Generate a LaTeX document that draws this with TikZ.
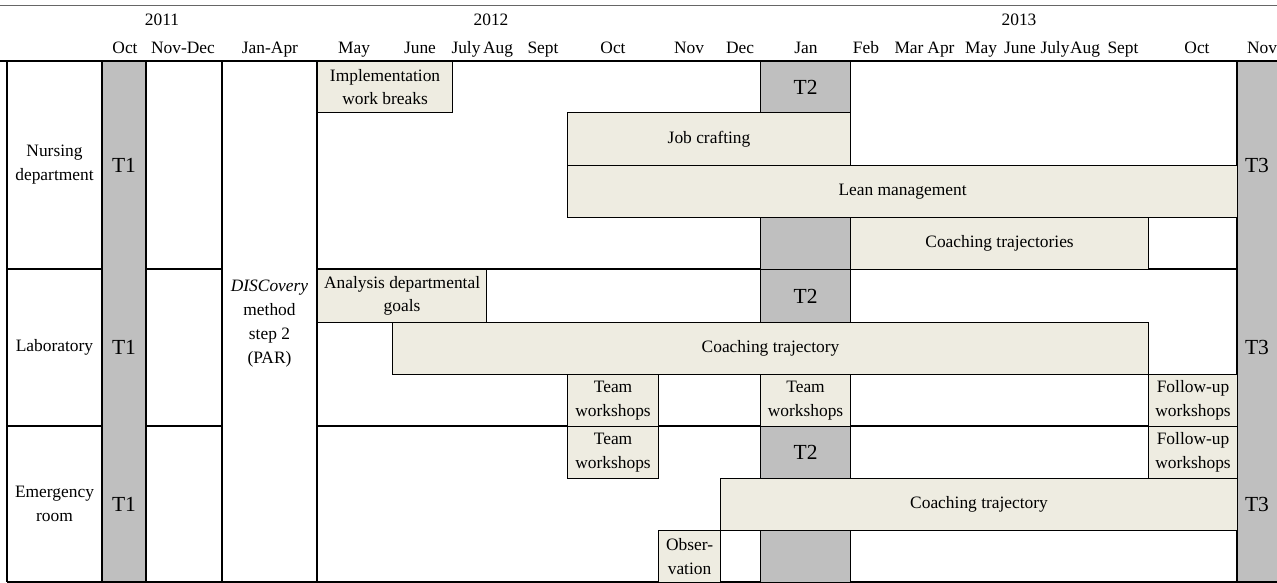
\documentclass[tikz,border=0pt]{standalone}
\usepackage{fontspec}
\setmainfont{Liberation Serif}
\definecolor{actfill}{HTML}{EEECE1}
\definecolor{tfill}{HTML}{BFBFBF}
\tikzset{
  gridline/.style={line width=1.1pt},
  actbox/.style={draw, line width=1.1pt, fill=actfill, inner sep=0pt, anchor=north west, align=center, font=\fontsize{17.4}{23.5}\selectfont},
  tbox/.style={draw, line width=1.1pt, fill=tfill, inner sep=0pt, anchor=north west, font=\fontsize{21.5}{24}\selectfont},
  tlabel/.style={inner sep=0pt, font=\fontsize{21.5}{24}\selectfont},
  hdr/.style={anchor=base, inner sep=0pt, font=\fontsize{17.4}{23.5}\selectfont},
  txt/.style={align=center, inner sep=0pt, font=\fontsize{17.4}{24}\selectfont},
}
\begin{document}
\begin{tikzpicture}[x=1pt, y=-1pt]
	\useasboundingbox (0,0) rectangle (1277,583);
	% T1 and T3 columns
	\fill[tfill] (102,61) rectangle (146,582);
	\fill[tfill] (1237,61) rectangle (1277,582);
	% header
	\node[hdr] (Y11) at (162,26) {2011};
	\node[hdr] (Y12) at (491,26) {2012};
	\node[hdr] (Y13) at (1019,26) {2013};
	\node[hdr] (M1) at (125,54) {Oct};
	\node[hdr] (M2) at (183,54) {Nov-Dec};
	\node[hdr] (M3) at (270,54) {Jan-Apr};
	\node[hdr] (M4) at (354,54) {May};
	\node[hdr] (M5) at (420,54) {June};
	\node[hdr] (M6) at (466,54) {July};
	\node[hdr] (M7) at (498,54) {Aug};
	\node[hdr] (M8) at (543,54) {Sept};
	\node[hdr] (M9) at (613,54) {Oct};
	\node[hdr] (M10) at (689,54) {Nov};
	\node[hdr] (M11) at (740,54) {Dec};
	\node[hdr] (M12) at (806,54) {Jan};
	\node[hdr] (M13) at (866,54) {Feb};
	\node[hdr] (M14) at (909,54) {Mar};
	\node[hdr] (M15) at (941,54) {Apr};
	\node[hdr] (M16) at (981,54) {May};
	\node[hdr] (M17) at (1020,54) {June};
	\node[hdr] (M18) at (1055,54) {July};
	\node[hdr] (M19) at (1085,54) {Aug};
	\node[hdr] (M20) at (1123,54) {Sept};
	\node[hdr] (M21) at (1197,54) {Oct};
	\node[hdr] (M22) at (1262,54) {Nov};
	\draw[line width=0.7pt, black!60] (0,5) -- (1277,5);
	\draw[line width=1.8pt] (0,61) -- (1277,61);
	% grid
	\draw[gridline] (7,61) -- (7,582);
	\draw[gridline] (102,61) -- (102,582);
	\draw[gridline] (146,61) -- (146,582);
	\draw[gridline] (222,61) -- (222,582);
	\draw[gridline] (317,61) -- (317,582);
	\draw[gridline] (1237,61) -- (1237,582);
	\draw[gridline] (7,269) -- (102,269) (146,269) -- (222,269) (317,269) -- (1237,269);
	\draw[gridline] (7,426) -- (102,426) (146,426) -- (222,426) (317,426) -- (1237,426);
	\draw[line width=1.4pt] (7,582) -- (1277,582);
	% row labels
	\node[txt] (NURS) at (54.5,165) {Nursing\\department};
	\node[txt] (LAB) at (54.5,347.5) {Laboratory};
	\node[txt] (ER) at (54.5,504) {Emergency\\room};
	\node[txt] (DISC) at (269.5,324) {\textit{DISCovery}\\method\\step 2\\(PAR)};
	\node[tlabel] (T1A) at (124,165) {T1};
	\node[tlabel] (T1B) at (124,347.5) {T1};
	\node[tlabel] (T1C) at (124,504) {T1};
	\node[tlabel] (T3A) at (1257,165) {T3};
	\node[tlabel] (T3B) at (1257,347.5) {T3};
	\node[tlabel] (T3C) at (1257,504) {T3};
	% nursing department
	\node[actbox, minimum width=135pt, minimum height=51pt] (IMPL) at (317,61) {Implementation\\work breaks};
	\node[tbox, minimum width=90pt, minimum height=51pt] (T2A) at (760,61) {T2};
	\node[actbox, minimum width=283pt, minimum height=53pt] (JOB) at (567,112) {Job crafting};
	\node[actbox, minimum width=670pt, minimum height=52pt] (LEAN) at (567,165) {Lean management};
	\node[tbox, minimum width=90pt, minimum height=52pt] (T2B) at (760,217) {};
	\node[actbox, minimum width=298pt, minimum height=52pt] (COACHN) at (850,217) {Coaching trajectories};
	% laboratory
	\node[actbox, minimum width=169pt, minimum height=53pt] (ANAL) at (317,269) {Analysis departmental\\goals};
	\node[tbox, minimum width=90pt, minimum height=53pt] (T2C) at (760,269) {T2};
	\node[actbox, minimum width=756pt, minimum height=52pt] (COACHL) at (392,322) {Coaching trajectory};
	\node[actbox, minimum width=91pt, minimum height=52pt] (TEAML1) at (567,374) {Team\\workshops};
	\node[actbox, minimum width=90pt, minimum height=52pt] (TEAML2) at (760,374) {Team\\workshops};
	\node[actbox, minimum width=89pt, minimum height=52pt] (FOLLL) at (1148,374) {Follow-up\\workshops};
	% emergency room
	\node[actbox, minimum width=91pt, minimum height=52pt] (TEAME) at (567,426) {Team\\workshops};
	\node[tbox, minimum width=90pt, minimum height=52pt] (T2D) at (760,426) {T2};
	\node[actbox, minimum width=89pt, minimum height=52pt] (FOLLE) at (1148,426) {Follow-up\\workshops};
	\node[actbox, minimum width=517pt, minimum height=52pt] (COACHE) at (720,478) {Coaching trajectory};
	\node[actbox, minimum width=62pt, minimum height=52pt] (OBS) at (658,530) {Obser-\\vation};
	\node[tbox, minimum width=90pt, minimum height=52pt] (T2E) at (760,530) {};
\end{tikzpicture}
\end{document}
